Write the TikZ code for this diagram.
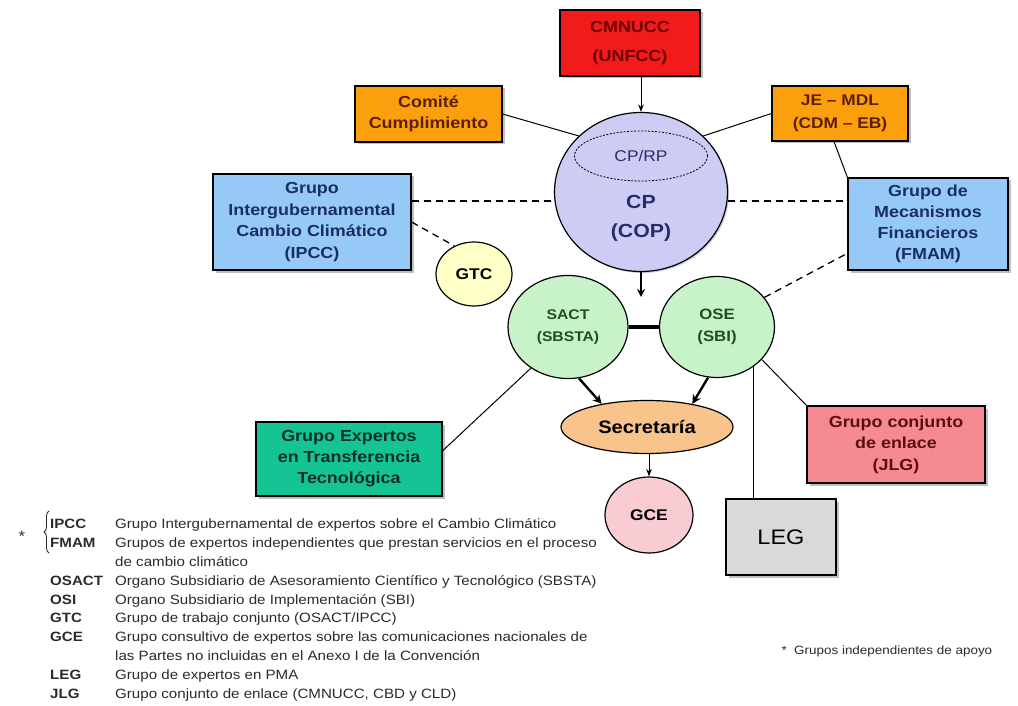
\documentclass[tikz,border=0pt]{standalone}
\usepackage{fontspec}
\setmainfont{Liberation Sans}[FakeStretch=1.12]
\usepackage{xcolor}
\usetikzlibrary{shapes.geometric,shadows,decorations.pathreplacing,arrows.meta}

\definecolor{unred}{HTML}{F21B1B}
\definecolor{undark}{HTML}{6B0000}
\definecolor{orgfill}{HTML}{FBA00C}
\definecolor{orgtext}{HTML}{5C1E00}
\definecolor{cpfill}{HTML}{CCCCF5}
\definecolor{cptext}{HTML}{2B2B6B}
\definecolor{bluefill}{HTML}{96C8F8}
\definecolor{bluetext}{HTML}{1A2F5E}
\definecolor{gtcfill}{HTML}{FFFFC8}
\definecolor{greenfill}{HTML}{C8F2C8}
\definecolor{greentext}{HTML}{1F4F1F}
\definecolor{secfill}{HTML}{F8C48C}
\definecolor{exfill}{HTML}{14C495}
\definecolor{extext}{HTML}{0B2E22}
\definecolor{jlgfill}{HTML}{F58A92}
\definecolor{jlgtext}{HTML}{5E0D0D}
\definecolor{gcefill}{HTML}{F9CCD4}
\definecolor{legfill}{HTML}{D9D9D9}
\definecolor{legtext}{HTML}{2A2A2A}

\newcommand\boxfont[2]{\fontsize{#1}{#2}\selectfont}

\begin{document}
\begin{tikzpicture}[x=1pt,y=-1pt,>=Stealth,
  box/.style={draw=black,line width=1.2pt,align=center,inner sep=0pt,
    drop shadow={shadow xshift=2.5pt,shadow yshift=-2.5pt,fill=black!50}},
  bubble/.style={draw=black,line width=1.2pt,ellipse,align=center,inner sep=0pt},
  link/.style={line width=1pt},
  dlink/.style={line width=1.3pt,dash pattern=on 7pt off 5pt},
  bigarrow/.style={-{Stealth[length=9pt,width=9pt]},line width=2.4pt}]
  \useasboundingbox (0,0) rectangle (1018,706);

  \node[box,fill=unred,text=undark,minimum width=140pt,minimum height=66pt,font=\boxfont{16}{29}\bfseries] (unfccc) at (630,43) {CMNUCC\\(UNFCC)};
  \node[box,fill=orgfill,text=orgtext,minimum width=147pt,minimum height=56pt,font=\boxfont{16}{21}\bfseries] (comite) at (428.5,114) {Comité\\Cumplimiento};
  \node[box,fill=orgfill,text=orgtext,minimum width=136pt,minimum height=55pt,font=\boxfont{15.5}{23}\bfseries] (je) at (840,113.5) {JE -- MDL\\(CDM -- EB)};

  \node[bubble,fill=cpfill,minimum width=173pt,minimum height=159pt,
    drop shadow={shadow xshift=1.5pt,shadow yshift=-1.5pt,fill=black!40}] (cp) at (641,192) {};
  \node[ellipse,draw=black,line width=0.8pt,dash pattern=on 2pt off 1.5pt,text=cptext,
    minimum width=133pt,minimum height=50pt,inner sep=0pt,font=\boxfont{15.5}{18}] (cprp) at (641,156) {CP/RP};
  \node[text=cptext,align=center,font=\boxfont{19}{29}\bfseries] (coptext) at (641,218) {CP\\(COP)};

  \node[box,fill=bluefill,text=bluetext,minimum width=198pt,minimum height=96pt,font=\boxfont{16}{21.5}\bfseries] (ipcc) at (312,222) {Grupo\\Intergubernamental\\Cambio Climático\\(IPCC)};
  \node[box,fill=bluefill,text=bluetext,minimum width=160pt,minimum height=92pt,font=\boxfont{16}{21}\bfseries] (fmam) at (928,224) {Grupo de\\Mecanismos\\Financieros\\(FMAM)};

  \node[bubble,fill=gtcfill,minimum width=76pt,minimum height=64pt,font=\boxfont{15.5}{18}\bfseries] (gtc) at (474,274) {GTC};
  \node[bubble,fill=greenfill,text=greentext,minimum width=120pt,minimum height=103pt,font=\boxfont{14}{22}\bfseries] (sact) at (568,327) {SACT\\(SBSTA)};
  \node[bubble,fill=greenfill,text=greentext,minimum width=115pt,minimum height=101pt,font=\boxfont{15}{22}\bfseries] (ose) at (717,327) {OSE\\(SBI)};
  \node[bubble,fill=secfill,minimum width=172pt,minimum height=53pt,font=\boxfont{18}{20}\bfseries] (sec) at (647,427) {Secretaría};
  \node[bubble,fill=gcefill,minimum width=88pt,minimum height=76pt,font=\boxfont{15.5}{18}\bfseries] (gce) at (649,515) {GCE};

  \node[box,fill=exfill,text=extext,minimum width=186pt,minimum height=74pt,font=\boxfont{16}{21}\bfseries] (exp) at (349,459) {Grupo Expertos\\en Transferencia\\Tecnológica};
  \node[box,fill=jlgfill,text=jlgtext,minimum width=178pt,minimum height=77pt,font=\boxfont{16}{21.5}\bfseries] (jlg) at (896,444.5) {Grupo conjunto\\de enlace\\(JLG)};
  \node[box,fill=legfill,minimum width=110pt,minimum height=76pt,font=\boxfont{21}{24}] (leg) at (781,537) {LEG};

  \coordinate (cpend) at (641,297);
  \draw[->,link] (unfccc.south -| cp.north) -- (cp.north);
  \draw[link] (comite.east) -- (cp.138);
  \draw[link] (je.west) -- (cp.42);
  \draw[link] (je.258) -- (fmam.north west);
  \draw[dlink] (cp.186 -| ipcc.east) -- (cp.186);
  \draw[dlink] (ipcc.east) -- (gtc.125);
  \draw[dlink] (cp.354) -- (cp.354 -| fmam.west);
  \draw[dlink] (ose.32) -- (fmam.200);
  \draw[-{Stealth[length=8pt,width=8pt]},line width=2pt] (cp.south) -- (cpend);
  \draw[line width=3.5pt] (sact.east) -- (ose.west);
  \draw[bigarrow] (sact.-78) -- (sec.153);
  \draw[bigarrow] (ose.-100) -- (sec.27);
  \draw[->,link] (sec.south -| gce.north) -- (gce.north);
  \draw[link] (sact.228) -- (exp.5);
  \draw[link] (ose.-36) -- (jlg.north west);
  \draw[link] (ose.-48) -- (ose.-48 |- leg.north);

  \node[text=legtext,font=\boxfont{15}{15}] (star) at (22,536) {*};
  \draw[decorate,decoration={brace,amplitude=5pt},line width=0.9pt,legtext] (49,553) -- (49,511);
  \node[anchor=north west,inner sep=0pt,text=legtext,font=\boxfont{13.5}{18.9}] (legend) at (50,515) {%
    \begin{tabular}{@{}p{65pt}@{}l@{}}
    \bfseries IPCC & Grupo Intergubernamental de expertos sobre el Cambio Climático\\
    \bfseries FMAM & Grupos de expertos independientes que prestan servicios en el proceso\\
     & de cambio climático\\
    \bfseries OSACT & Organo Subsidiario de Asesoramiento Científico y Tecnológico (SBSTA)\\
    \bfseries OSI & Organo Subsidiario de Implementación (SBI)\\
    \bfseries GTC & Grupo de trabajo conjunto (OSACT/IPCC)\\
    \bfseries GCE & Grupo consultivo de expertos sobre las comunicaciones nacionales de\\
     & las Partes no incluidas en el Anexo I de la Convención\\
    \bfseries LEG & Grupo de expertos en PMA\\
    \bfseries JLG & Grupo conjunto de enlace (CMNUCC, CBD y CLD)
    \end{tabular}};
  \node[anchor=west,text=legtext,font=\boxfont{12}{14}] (note) at (778,651) {*\ \ Grupos independientes de apoyo};
\end{tikzpicture}
\end{document}
